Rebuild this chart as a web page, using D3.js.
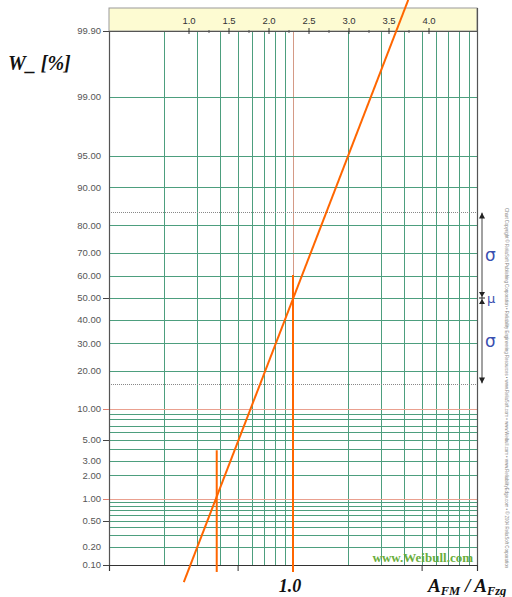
<!DOCTYPE html>
<html><head><meta charset="utf-8">
<script src="https://cdn.jsdelivr.net/npm/d3@7"></script>
<style>html,body{margin:0;padding:0;background:#fff;}svg{display:block;}</style>
</head><body>
<svg id="chart" width="512" height="597"></svg>
<script>
// ---- data ----
const xGridValues = [0.2,0.3,0.4,0.5,0.6,0.7,0.8,0.9,2,3,4,5,6,7,8,9];
const xRefValue = 1.0;
const xTickValues = [0.1,0.5,1,5,10];
const yGridValues = [99,95,90,80,70,60,50,40,30,20,9,8,7,6,5,4,3,2,0.9,0.8,0.7,0.6,0.5,0.4,0.3,0.2];
const yRedValues = [10,1];
const yLabelValues = [99.9,99,95,90,80,70,60,50,40,30,20,10,5,3,2,1,0.5,0.2,0.1];
const yTickedValues = [99.9,50,10,5,1,0.5,0.1];
const betaLabels = [1.0,1.5,2.0,2.5,3.0,3.5,4.0];
const betaMinor = [1.25,1.75,2.25,2.75,3.25,3.75];
const sigmaPercents = [84.13,15.87];
const muPercent = 50;
const fitLineX = [0.255,4.23];
const fitLineP = [0.0506,99.972];
const markerX = [1.0,0.385];
const markerTopP = [60.5,3.9];
const markerBottomP = 0.076;

// inverse normal CDF (Acklam)
function qnorm(p){
  const a=[-3.969683028665376e+01,2.209460984245205e+02,-2.759285104469687e+02,1.383577518672690e+02,-3.066479806614716e+01,2.506628277459239e+00];
  const b=[-5.447609879822406e+01,1.615858368580409e+02,-1.556989798598866e+02,6.680131188771972e+01,-1.328068155288572e+01];
  const c=[-7.784894002430293e-03,-3.223964580411365e-01,-2.400758277161838e+00,-2.549732539343734e+00,4.374664141464968e+00,2.938163982698783e+00];
  const d=[7.784695709041462e-03,3.224671290700398e-01,2.445134137142996e+00,3.754408661907416e+00];
  const pl=0.02425, ph=1-pl; let q,r;
  if(p<pl){q=Math.sqrt(-2*Math.log(p));return (((((c[0]*q+c[1])*q+c[2])*q+c[3])*q+c[4])*q+c[5])/((((d[0]*q+d[1])*q+d[2])*q+d[3])*q+1);}
  if(p<=ph){q=p-0.5;r=q*q;return (((((a[0]*r+a[1])*r+a[2])*r+a[3])*r+a[4])*r+a[5])*q/(((((b[0]*r+b[1])*r+b[2])*r+b[3])*r+b[4])*r+1);}
  q=Math.sqrt(-2*Math.log(1-p));return -(((((c[0]*q+c[1])*q+c[2])*q+c[3])*q+c[4])*q+c[5])/((((d[0]*q+d[1])*q+d[2])*q+d[3])*q+1);
}

const X0=109, X1=477, Y0=31, Y1=565;
const xS = d3.scaleLog().domain([0.1,10]).range([X0,X1]);
const zS = d3.scaleLinear().domain([qnorm(0.001),qnorm(0.999)]).range([Y1,Y0]);
const yS = p => zS(qnorm(p/100));
const betaS = d3.scaleLinear().domain([0,4.6]).range([X0,X1]);

const svg = d3.select("#chart");
const teal = "#4d9e7e", red = "#eaa08f", axisC = "#555", orange = "#ff6600";

// yellow band
svg.append("rect").attr("x",X0).attr("y",8).attr("width",X1-X0).attr("height",Y0-8)
  .attr("fill","#fdfbd2").attr("stroke","#999").attr("stroke-width",1);

// vertical grid
svg.append("g").selectAll("line").data(xGridValues).join("line")
  .attr("x1",d=>Math.round(xS(d))+0.5).attr("x2",d=>Math.round(xS(d))+0.5).attr("y1",Y0).attr("y2",Y1)
  .attr("stroke",teal).attr("stroke-width",1);
svg.append("line").attr("x1",Math.round(xS(xRefValue))+0.5).attr("x2",Math.round(xS(xRefValue))+0.5)
  .attr("y1",Y0).attr("y2",Y1).attr("stroke","#d49a86").attr("stroke-width",1);

// horizontal grid
svg.append("g").selectAll("line").data(yGridValues).join("line")
  .attr("x1",X0).attr("x2",X1).attr("y1",d=>Math.round(yS(d))+0.5).attr("y2",d=>Math.round(yS(d))+0.5)
  .attr("stroke",teal).attr("stroke-width",1);
svg.append("g").selectAll("line").data(yRedValues).join("line")
  .attr("x1",X0).attr("x2",X1).attr("y1",d=>Math.round(yS(d))+0.5).attr("y2",d=>Math.round(yS(d))+0.5)
  .attr("stroke",red).attr("stroke-width",1);
// sigma dotted lines
svg.append("g").selectAll("line").data(sigmaPercents).join("line")
  .attr("x1",X0).attr("x2",X1).attr("y1",d=>Math.round(yS(d))+0.5).attr("y2",d=>Math.round(yS(d))+0.5)
  .attr("stroke","#888").attr("stroke-width",1).attr("stroke-dasharray","1,1");

// frame
svg.append("line").attr("x1",X0+0.5).attr("x2",X0+0.5).attr("y1",Y0).attr("y2",571).attr("stroke",axisC).attr("stroke-width",1.2);
svg.append("line").attr("x1",X1+0.5).attr("x2",X1+0.5).attr("y1",8).attr("y2",571).attr("stroke",axisC).attr("stroke-width",1.2);
svg.append("line").attr("x1",X0).attr("x2",X1).attr("y1",Y1+0.5).attr("y2",Y1+0.5).attr("stroke","#333").attr("stroke-width",1.2);
svg.append("line").attr("x1",X0).attr("x2",X1).attr("y1",Y0+0.5).attr("y2",Y0+0.5).attr("stroke",axisC).attr("stroke-width",1);

// bottom axis ticks
svg.append("g").attr("transform",`translate(0,${Y1})`)
  .call(d3.axisBottom(xS).tickValues(xTickValues).tickSize(6).tickFormat(""))
  .call(g=>g.select(".domain").remove())
  .call(g=>g.selectAll("line").attr("stroke","#333"));

// left labels + ticks
const leftG = svg.append("g");
leftG.selectAll("text").data(yLabelValues).join("text")
  .attr("x",101).attr("y",d=>yS(d)).attr("dy","0.35em").attr("text-anchor","end")
  .attr("font-family","Arial, Liberation Sans, sans-serif").attr("font-size",9.5).attr("fill","#555")
  .text(d=>d.toFixed(2));
leftG.selectAll("line").data(yTickedValues).join("line")
  .attr("x1",103).attr("x2",X0).attr("y1",d=>Math.round(yS(d))+0.5).attr("y2",d=>Math.round(yS(d))+0.5)
  .attr("stroke",d=>yRedValues.includes(d)?"#e08070":"#444").attr("stroke-width",1);

// top beta scale
const topG = svg.append("g");
topG.selectAll("line.maj").data(betaLabels).join("line").attr("class","maj")
  .attr("x1",d=>betaS(d)).attr("x2",d=>betaS(d)).attr("y1",28).attr("y2",34).attr("stroke","#333");
topG.selectAll("line.min").data(betaMinor).join("line").attr("class","min")
  .attr("x1",d=>betaS(d)).attr("x2",d=>betaS(d)).attr("y1",30).attr("y2",33).attr("stroke","#555");
topG.selectAll("text").data(betaLabels).join("text")
  .attr("x",d=>betaS(d)).attr("y",24).attr("text-anchor","middle")
  .attr("font-family","Arial, Liberation Sans, sans-serif").attr("font-size",9.5).attr("fill","#333")
  .text(d=>d.toFixed(1));

// orange markers
svg.append("g").selectAll("line").data(markerX).join("line")
  .attr("x1",d=>xS(d)).attr("x2",d=>xS(d)).attr("y1",(d,i)=>yS(markerTopP[i])).attr("y2",yS(markerBottomP))
  .attr("stroke",orange).attr("stroke-width",2);

// fitted line
const fitData = fitLineX.map((v,i)=>({x:v,p:fitLineP[i]}));
svg.append("path").datum(fitData)
  .attr("d",d3.line().x(d=>xS(d.x)).y(d=>yS(d.p)))
  .attr("fill","none").attr("stroke",orange).attr("stroke-width",2);

// sigma / mu annotation
const ax = 482;
const defs = svg.append("defs");
defs.append("marker").attr("id","ah").attr("viewBox","0 0 6 6").attr("refX",6).attr("refY",3)
  .attr("markerWidth",6).attr("markerHeight",6).attr("orient","auto")
  .append("path").attr("d","M0,0L6,3L0,6Z").attr("fill","#222");
const yS1 = yS(sigmaPercents[0]), yS2 = yS(sigmaPercents[1]), yMu = yS(muPercent);
svg.append("line").attr("x1",ax).attr("x2",ax).attr("y1",yMu).attr("y2",yS1+1)
  .attr("stroke","#444").attr("stroke-width",1).attr("marker-end","url(#ah)");
svg.append("line").attr("x1",ax).attr("x2",ax).attr("y1",yMu).attr("y2",yS2-1)
  .attr("stroke","#444").attr("stroke-width",1).attr("marker-end","url(#ah)");
svg.append("path").attr("d",`M${ax-3},${yMu-6}L${ax+3},${yMu-6}L${ax},${yMu-1}Z M${ax-3},${yMu+6}L${ax+3},${yMu+6}L${ax},${yMu+1}Z`).attr("fill","#222");
svg.append("line").attr("x1",ax-3).attr("x2",ax+3).attr("y1",yMu).attr("y2",yMu).attr("stroke","#222");
const annoFont = "DejaVu Sans, Arial, sans-serif";
svg.append("text").attr("x",485).attr("y",(yS1+yMu)/2).attr("dy","0.35em").attr("font-family",annoFont)
  .attr("font-size",17).attr("fill","#3a4fb0").text("σ");
svg.append("text").attr("x",485).attr("y",(yS2+yMu)/2).attr("dy","0.35em").attr("font-family",annoFont)
  .attr("font-size",17).attr("fill","#3a4fb0").text("σ");
svg.append("text").attr("x",487).attr("y",yMu).attr("dy","0.35em").attr("font-family",annoFont)
  .attr("font-size",13).attr("fill","#3a4fb0").text("μ");

// tiny rotated copyright
svg.append("text").attr("transform","translate(505,208) rotate(90)")
  .attr("font-family","Arial, sans-serif").attr("font-size",4.5).attr("fill","#888")
  .attr("textLength",360).attr("lengthAdjust","spacingAndGlyphs")
  .text("Chart Copyright © ReliaSoft Publishing Corporation • Reliability Engineering Resources • www.ReliaSoft.com • www.Weibull.com • www.ReliabilityEdge.com • © 2004 ReliaSoft Corporation");

// watermark
svg.append("text").attr("x",473).attr("y",562).attr("text-anchor","end")
  .attr("font-family","Liberation Serif, Times New Roman, serif").attr("font-weight","bold")
  .attr("font-size",13).attr("fill","#6aae3c").text("www.Weibull.com");

// titles
const serif = "Liberation Serif, Times New Roman, serif";
svg.append("text").attr("x",8).attr("y",70).attr("font-family",serif).attr("font-weight","bold")
  .attr("font-style","italic").attr("font-size",20).attr("fill","#111").text("W_ [%]");
svg.append("text").attr("x",290).attr("y",592).attr("text-anchor","middle").attr("font-family",serif)
  .attr("font-weight","bold").attr("font-style","italic").attr("font-size",18).attr("fill","#111").text("1.0");
const xt = svg.append("text").attr("x",428).attr("y",592).attr("font-family",serif)
  .attr("font-weight","bold").attr("font-style","italic").attr("font-size",19).attr("fill","#111");
xt.append("tspan").text("A");
xt.append("tspan").attr("font-size",12.5).attr("dy",3).text("FM");
xt.append("tspan").attr("dy",-3).text(" / A");
xt.append("tspan").attr("font-size",12.5).attr("dy",3).text("Fzg");
</script>
</body></html>
